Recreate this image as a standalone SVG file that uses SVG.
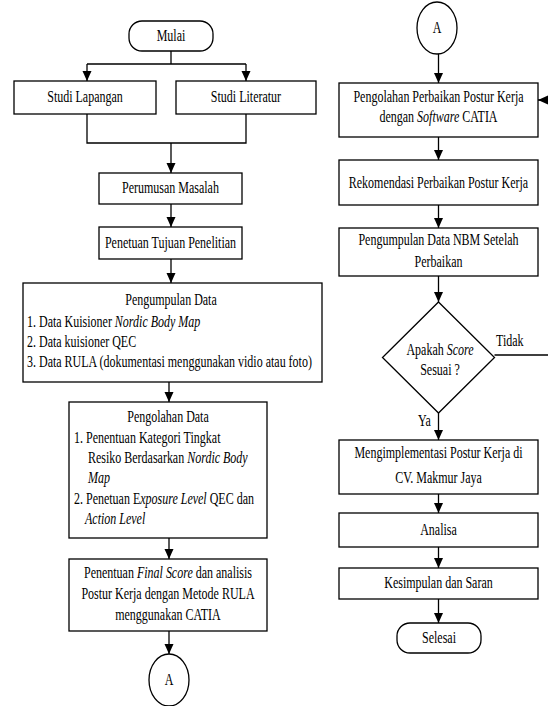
<svg xmlns="http://www.w3.org/2000/svg" width="548" height="706" viewBox="0 0 548 706">
<style>
.box{fill:#fff;stroke:#000;stroke-width:1.3}
.ln{fill:none;stroke:#000;stroke-width:1.3}
text{font-family:'Liberation Serif','Times New Roman',Times,serif;font-size:16px;fill:#000}
.c{text-anchor:middle}
.i{font-style:italic}
</style>
<defs>
<marker id="ah" markerUnits="userSpaceOnUse" markerWidth="10" markerHeight="10" viewBox="0 0 10 10" refX="10" refY="5" orient="auto">
<path d="M0,0.5 L10,5 L0,9.5 z" fill="#000"/>
</marker>
</defs>
<rect width="548" height="706" fill="#fff"/>
<g id="connectors">
<path class="ln" d="M171,51 V64 M87,64 H246"/>
<path class="ln" d="M87,64 V81" marker-end="url(#ah)"/>
<path class="ln" d="M246,64 V81" marker-end="url(#ah)"/>
<path class="ln" d="M87,114 V143 H246 V114"/>
<path class="ln" d="M171,143 V173" marker-end="url(#ah)"/>
<path class="ln" d="M171,204 V227" marker-end="url(#ah)"/>
<path class="ln" d="M171,259 V283" marker-end="url(#ah)"/>
<path class="ln" d="M169,382 V402" marker-end="url(#ah)"/>
<path class="ln" d="M169,538 V559" marker-end="url(#ah)"/>
<path class="ln" d="M169,631 V654" marker-end="url(#ah)"/>
<path class="ln" d="M438.5,54 V83" marker-end="url(#ah)"/>
<path class="ln" d="M438.5,137 V160" marker-end="url(#ah)"/>
<path class="ln" d="M438.5,205 V228" marker-end="url(#ah)"/>
<path class="ln" d="M438.5,276 V302" marker-end="url(#ah)"/>
<path class="ln" d="M438.5,413 V440" marker-end="url(#ah)"/>
<path class="ln" d="M438.5,494 V513" marker-end="url(#ah)"/>
<path class="ln" d="M438.5,547 V568" marker-end="url(#ah)"/>
<path class="ln" d="M438.5,599 V623" marker-end="url(#ah)"/>
<path class="ln" d="M494.5,355 H552 V100 H538" marker-end="url(#ah)"/>
</g>
<g id="mulai"><rect class="box" x="129" y="21" width="84" height="30" rx="13"/></g>
<g id="studi-lapangan"><rect class="box" x="14" y="81" width="142" height="33"/></g>
<g id="studi-literatur"><rect class="box" x="176" y="81" width="140" height="33"/></g>
<g id="perumusan"><rect class="box" x="99" y="173" width="143" height="31"/></g>
<g id="tujuan"><rect class="box" x="99" y="227" width="143" height="32"/></g>
<g id="pengumpulan"><rect class="box" x="23" y="283" width="299" height="99"/></g>
<g id="pengolahan"><rect class="box" x="69" y="402" width="198" height="136"/></g>
<g id="final-score"><rect class="box" x="69" y="559" width="198" height="72"/></g>
<g id="conn-a1"><ellipse class="box" cx="169" cy="680" rx="20" ry="26"/></g>
<g id="conn-a2"><ellipse class="box" cx="437" cy="28" rx="20" ry="26"/></g>
<g id="perbaikan-catia"><rect class="box" x="339" y="83" width="199" height="54"/></g>
<g id="rekomendasi"><rect class="box" x="339" y="160" width="199" height="45"/></g>
<g id="nbm-setelah"><rect class="box" x="339" y="228" width="199" height="48"/></g>
<g id="keputusan"><path class="box" d="M438.5,302 L494.5,357.5 L438.5,413 L382.5,357.5 Z"/></g>
<g id="implementasi"><rect class="box" x="339" y="440" width="199" height="54"/></g>
<g id="analisa"><rect class="box" x="339" y="513" width="199" height="34"/></g>
<g id="kesimpulan"><rect class="box" x="339" y="568" width="199" height="31"/></g>
<g id="selesai"><rect class="box" x="397" y="623" width="84" height="30" rx="13"/></g>
<g id="labels" transform="scale(0.75,1)">
<text class="c" x="228" y="41.5">Mulai</text>
<text class="c" x="113.33" y="102.5">Studi Lapangan</text>
<text class="c" x="328" y="102.5">Studi Literatur</text>
<text class="c" x="227.33" y="193.5">Perumusan Masalah</text>
<text class="c" x="227.33" y="248.5">Penetuan Tujuan Penelitian</text>
<text class="c" x="228" y="305.5">Pengumpulan Data</text>
<text x="36" y="327.5">1. Data Kuisioner <tspan class="i">Nordic Body Map</tspan></text>
<text x="36" y="347.5">2. Data kuisioner QEC</text>
<text x="36" y="367.5">3. Data RULA (dokumentasi menggunakan vidio atau foto)</text>
<text class="c" x="224" y="422.5">Pengolahan Data</text>
<text x="98.67" y="443.5">1.  Penentuan Kategori Tingkat</text>
<text x="117.33" y="463.5">Resiko Berdasarkan <tspan class="i">Nordic Body</tspan></text>
<text class="i" x="117.33" y="483.5">Map</text>
<text x="98.67" y="504.5">2. Penetuan E<tspan class="i">xposure Level</tspan> QEC dan</text>
<text class="i" x="113.33" y="524.5">Action Level</text>
<text class="c" x="224" y="578.5">Penentuan <tspan class="i">Final Score</tspan> dan analisis</text>
<text class="c" x="224" y="599.5">Postur Kerja dengan Metode RULA</text>
<text class="c" x="224" y="620.5">menggunakan  CATIA</text>
<text class="c" x="225.33" y="685.5">A</text>
<text class="c" x="582.67" y="33.5">A</text>
<text class="c" x="584.67" y="102.5">Pengolahan Perbaikan Postur Kerja</text>
<text class="c" x="584.67" y="122.5">dengan <tspan class="i">Software</tspan> CATIA</text>
<text class="c" x="584.67" y="188.5">Rekomendasi Perbaikan Postur Kerja</text>
<text class="c" x="584.67" y="245.5">Pengumpulan Data NBM Setelah</text>
<text class="c" x="584.67" y="267.5">Perbaikan</text>
<text class="c" x="586.67" y="355.5">Apakah <tspan class="i">Score</tspan></text>
<text class="c" x="586.67" y="375.5">Sesuai ?</text>
<text x="661.33" y="346">Tidak</text>
<text x="557.33" y="426.5">Ya</text>
<text class="c" x="584.67" y="458.5">Mengimplementasi Postur Kerja di</text>
<text class="c" x="584.67" y="483.5">CV. Makmur Jaya</text>
<text class="c" x="584.67" y="535.5">Analisa</text>
<text class="c" x="584.67" y="588.5">Kesimpulan dan Saran</text>
<text class="c" x="585.33" y="643.5">Selesai</text>
</g>
</svg>
